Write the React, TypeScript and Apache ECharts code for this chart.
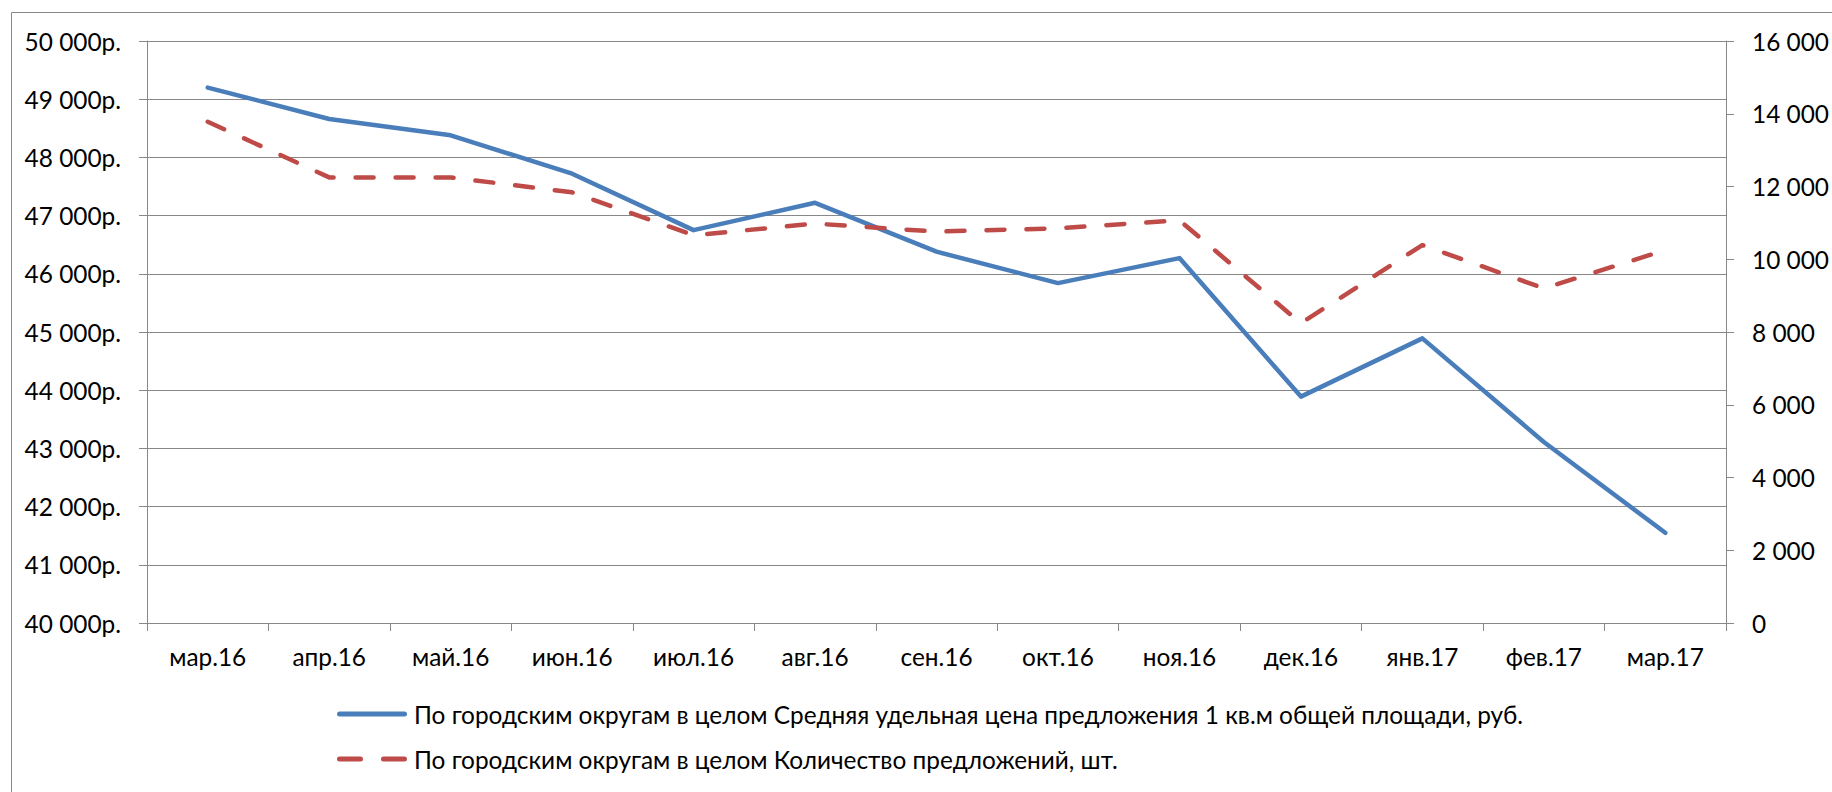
import React, { useEffect, useRef } from "react";
import * as echarts from "echarts";

const categories = ["мар.16", "апр.16", "май.16", "июн.16", "июл.16", "авг.16", "сен.16", "окт.16", "ноя.16", "дек.16", "янв.17", "фев.17", "мар.17"];
const priceSeriesName = "По городским округам в целом Средняя удельная цена предложения 1 кв.м общей площади, руб.";
const countSeriesName = "По городским округам в целом Количество предложений, шт.";
const priceValues = [49200, 48660, 48380, 47720, 46750, 47220, 46380, 45840, 46270, 43890, 44890, 43110, 41550];
const countValues = [13780, 12250, 12250, 11840, 10660, 10980, 10760, 10850, 11070, 8240, 10390, 9200, 10250];

const FONT = "Lato";
const FS = 24.4;
const GRAY = "#888888";

const SOLID_ICON = "path://M2.5,0 h65 a2.5,2.5 0 0 1 0,5 h-65 a2.5,2.5 0 0 1 0,-5 z";
const DASH_ICON =
  "path://M2.5,0 h21 a2.5,2.5 0 0 1 0,5 h-21 a2.5,2.5 0 0 1 0,-5 z M46.5,0 h21 a2.5,2.5 0 0 1 0,5 h-21 a2.5,2.5 0 0 1 0,-5 z";

function spaced(v: number): string {
  return String(Math.round(v)).replace(/\B(?=(\d{3})+(?!\d))/g, " ");
}

export default function App() {
  const ref = useRef<HTMLDivElement>(null);
  useEffect(() => {
    if (!ref.current) return;
    const chart = echarts.init(ref.current, undefined, { renderer: "svg" });
    chart.setOption({
      animation: false,
      backgroundColor: "#ffffff",
      textStyle: { fontFamily: FONT },
      graphic: [
        {
          type: "rect",
          shape: { x: 11.5, y: 12.5, width: 1900, height: 900 },
          style: { fill: "none", stroke: GRAY, lineWidth: 1 },
          silent: true,
        },
      ],
      grid: { left: 147, right: 97, top: 41, bottom: 169 },
      legend: {
        orient: "vertical",
        left: 332,
        top: 697,
        itemWidth: 70,
        itemHeight: 5,
        itemGap: 21,
        textStyle: { fontFamily: FONT, fontSize: FS, color: "#000", padding: [0, 0, 0, 2] },
        data: [
          { name: priceSeriesName, icon: SOLID_ICON },
          { name: countSeriesName, icon: DASH_ICON },
        ],
      },
      xAxis: {
        type: "category",
        data: categories,
        boundaryGap: true,
        axisLine: { lineStyle: { color: GRAY, width: 1 } },
        axisTick: { show: true, length: 8, alignWithLabel: false, lineStyle: { color: GRAY } },
        axisLabel: { color: "#000", fontFamily: FONT, fontSize: FS, margin: 21 },
        splitLine: { show: false },
      },
      yAxis: [
        {
          type: "value",
          min: 40000,
          max: 50000,
          interval: 1000,
          axisLine: { show: true, lineStyle: { color: GRAY, width: 1 } },
          axisTick: { show: true, length: 8, lineStyle: { color: GRAY } },
          axisLabel: { color: "#000", fontFamily: FONT, fontSize: FS, margin: 26, formatter: (v: number) => spaced(v) + "р." },
          splitLine: { show: true, lineStyle: { color: GRAY, width: 1 } },
        },
        {
          type: "value",
          min: 0,
          max: 16000,
          interval: 2000,
          position: "right",
          axisLine: { show: true, lineStyle: { color: GRAY, width: 1 } },
          axisTick: { show: true, length: 8, lineStyle: { color: GRAY } },
          axisLabel: { color: "#000", fontFamily: FONT, fontSize: FS, margin: 26, formatter: (v: number) => spaced(v) },
          splitLine: { show: false },
        },
      ],
      series: [
        {
          name: priceSeriesName,
          type: "line",
          yAxisIndex: 0,
          data: priceValues,
          symbol: "none",
          itemStyle: { color: "#4A7EBB" },
          lineStyle: { color: "#4A7EBB", width: 4.5, cap: "round", join: "round" },
        },
        {
          name: countSeriesName,
          type: "line",
          yAxisIndex: 1,
          data: countValues,
          symbol: "none",
          itemStyle: { color: "#BE4B48" },
          lineStyle: { color: "#BE4B48", width: 4.5, type: [18, 22], cap: "round", join: "round" },
        },
      ],
    });
    return () => chart.dispose();
  }, []);
  return <div ref={ref} style={{ position: "absolute", left: 0, top: 0, width: 1832, height: 792 }} />;
}
